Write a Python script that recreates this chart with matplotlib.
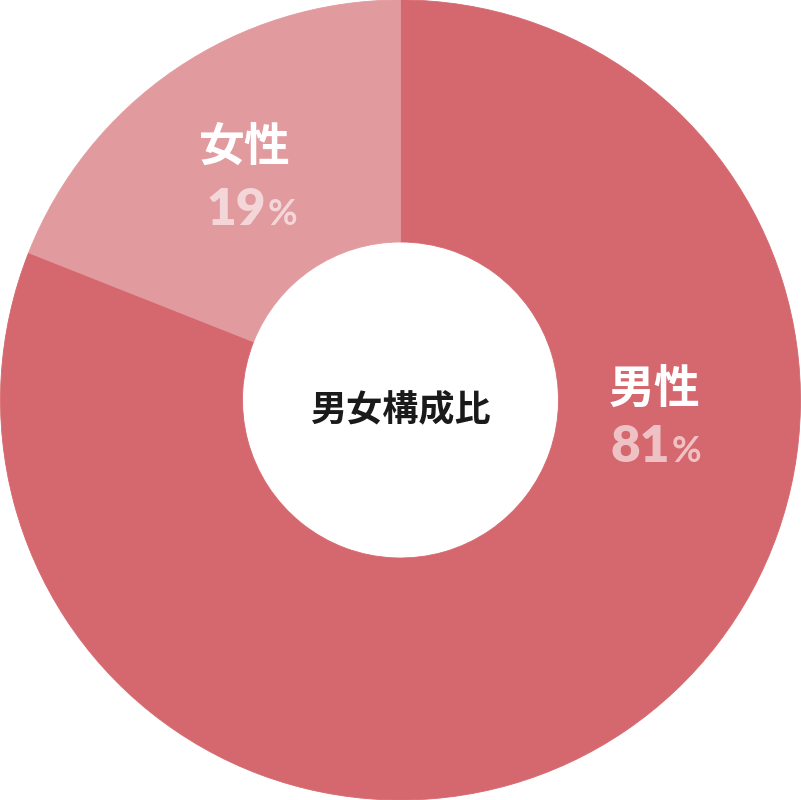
import matplotlib.pyplot as plt

plt.rcParams['font.family'] = ['Noto Sans CJK JP', 'DejaVu Sans']

# --- data ---
labels = ["男性", "女性"]
shares = [81, 19]
colors = ["#d5686e", "#e19a9e"]
center_title = "男女構成比"

fig = plt.figure(figsize=(8.01, 8.00), dpi=100)
ax = fig.add_axes([0, 0, 1, 1])

# clockwise from 12 o'clock, men first
wedges, _ = ax.pie(shares, colors=colors, startangle=90, counterclock=False,
                   radius=1.0, wedgeprops=dict(width=1.0 - 0.395, linewidth=0.6))
for w, c in zip(wedges, colors):
    w.set_edgecolor(c)

ax.set_xlim(-1.0, 1.0)
ax.set_ylim(-1.0, 1.0)
ax.set_aspect("equal")
ax.axis("off")

ax.text(0, -0.025, center_title, ha="center", va="center",
        fontsize=26, fontweight="bold", color="#1a1a1a")

# label anchors (name centre, number baseline)
name_pos = {"男性": (0.635, 0.025), "女性": (-0.39, 0.63)}
num_pos = {"男性": (0.6725, -0.155), "女性": (-0.337, 0.4375)}

for lab, val in zip(labels, shares):
    nx, ny = name_pos[lab]
    ax.text(nx, ny, lab, ha="center", va="center", fontsize=33,
            fontweight="bold", color="white")
    px, py = num_pos[lab]
    ax.text(px, py, str(val), ha="right", va="baseline", fontsize=37,
            family="Lato", fontweight="heavy", color="white", alpha=0.6)
    ax.text(px + 0.006, py, "%", ha="left", va="baseline", fontsize=26,
            family="Lato", fontweight="bold", color="white", alpha=0.6)

fig.savefig("out.png", dpi=100)
